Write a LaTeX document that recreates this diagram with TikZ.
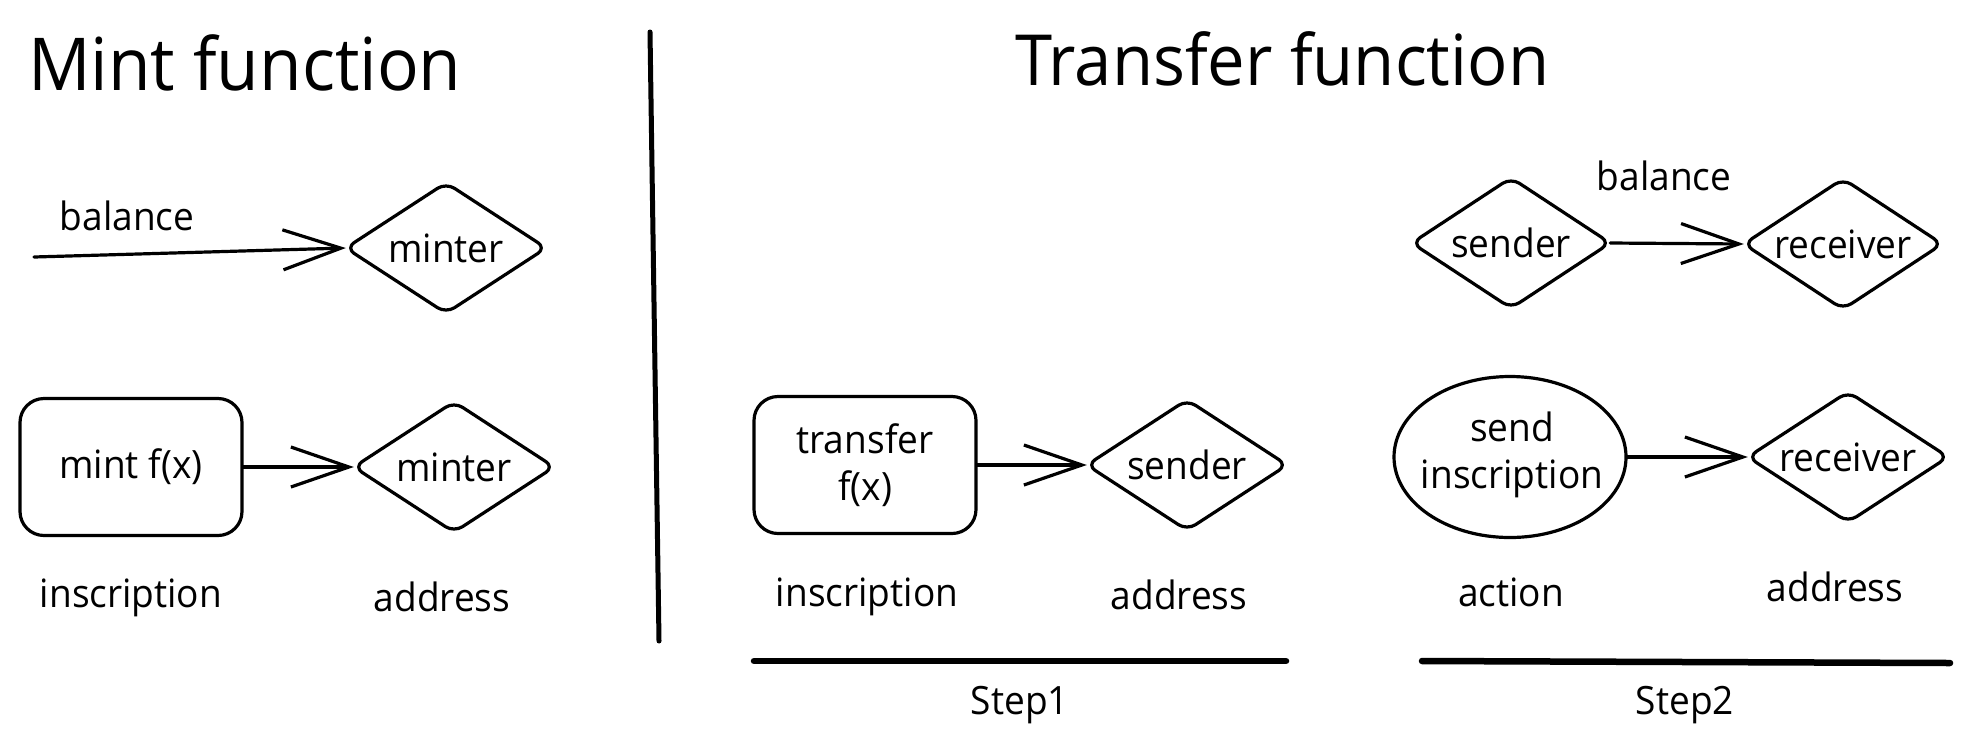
\documentclass[tikz,border=0pt]{standalone}
\usepackage{fontspec}
\setmainfont{Open Sans}[FakeStretch=0.95]
\usetikzlibrary{arrows.meta,shapes.geometric}
\begin{document}
\begin{tikzpicture}[x=1pt,y=-1pt,
  stroke/.style={line width=3.2pt, line cap=round, line join=round},
  lblfont/.style={font=\fontsize{39}{47}\selectfont},
  lbl/.style={lblfont, inner sep=0pt, anchor=base},
  ttl/.style={font=\fontsize{73}{80}\selectfont, inner sep=0pt, anchor=base west},
  dia/.style={draw=none, minimum width=200pt, minimum height=130pt, inner sep=0pt, lblfont},
  rbox/.style={draw, stroke, rounded corners=24pt, minimum width=222pt, minimum height=137pt, inner sep=0pt, align=center, lblfont},
  ell/.style={draw, stroke, ellipse, minimum width=232pt, minimum height=161pt, inner sep=0pt},
  arr/.style={stroke, -{Straight Barb[length=58pt,width=40pt]}},
  bar/.style={line width=6.5pt, line cap=round},
  divider/.style={line width=5pt, line cap=round}
]
\useasboundingbox (0,0) rectangle (1969,748);

% titles
\node[ttl] (t1) at (28,90) {Mint function};
\node[ttl, font=\fontsize{70.5}{80}\selectfont] (t2) at (1015,85) {Transfer function};

% divider
\coordinate (va) at (650,32);
\coordinate (vb) at (659,641);
\draw[divider] (va) -- (vb);

% Mint section
\node[dia] (m1) at (446,248) {minter};
\node[dia] (m2) at (454,467) {minter};
\coordinate (bstart) at (34,257);
\node[lbl] (bal1) at (127,230) {balance};
\node[rbox] (mf) at (131,467) {mint f(x)};
\node[lbl] (ins1) at (131,607) {inscription};
\node[lbl] (adr1) at (442,611) {address};

% Transfer step 1
\node[rbox] (tf) at (865,465) {transfer\\f(x)};
\node[dia] (s1) at (1187,465) {sender};
\node[lbl] (ins2) at (867,606) {inscription};
\node[lbl] (adr2) at (1179,609) {address};
\coordinate (b1a) at (754,661);
\coordinate (b1b) at (1286,661);
\node[lbl] (st1) at (1020,714) {Step1};

% Transfer step 2
\node[dia, minimum width=198pt] (s2) at (1511,243) {sender};
\node[dia, minimum width=198pt] (r1) at (1843,244) {receiver};
\node[lbl] (bal2) at (1664,190) {balance};
\node[ell] (si) at (1510,457) {};
\node[lblfont, align=center, inner sep=0pt] (sitxt) at (1512,455) {send\\inscription};
\node[dia] (r2) at (1848,457) {receiver};
\node[lbl] (act) at (1511,606) {action};
\node[lbl] (adr3) at (1835,601) {address};
\coordinate (b2a) at (1422,661);
\coordinate (b2b) at (1950,663);
\node[lbl] (st2) at (1685,714) {Step2};

% diamonds
\foreach \n in {m1,m2,s1,s2,r1,r2}
  \draw[stroke, rounded corners=10pt] (\n.west) -- (\n.north) -- (\n.east) -- (\n.south) -- cycle;

% connectors
\draw[arr] (bstart) -- (m1.west);
\draw[arr] (mf.east) -- (m2.west);
\draw[arr] (tf.east) -- (s1.west);
\draw[arr] (s2.east) -- (r1.west);
\draw[arr] (si.east) -- (r2.west);

% step bars
\draw[bar] (b1a) -- (b1b);
\draw[bar] (b2a) -- (b2b);
\end{tikzpicture}
\end{document}
